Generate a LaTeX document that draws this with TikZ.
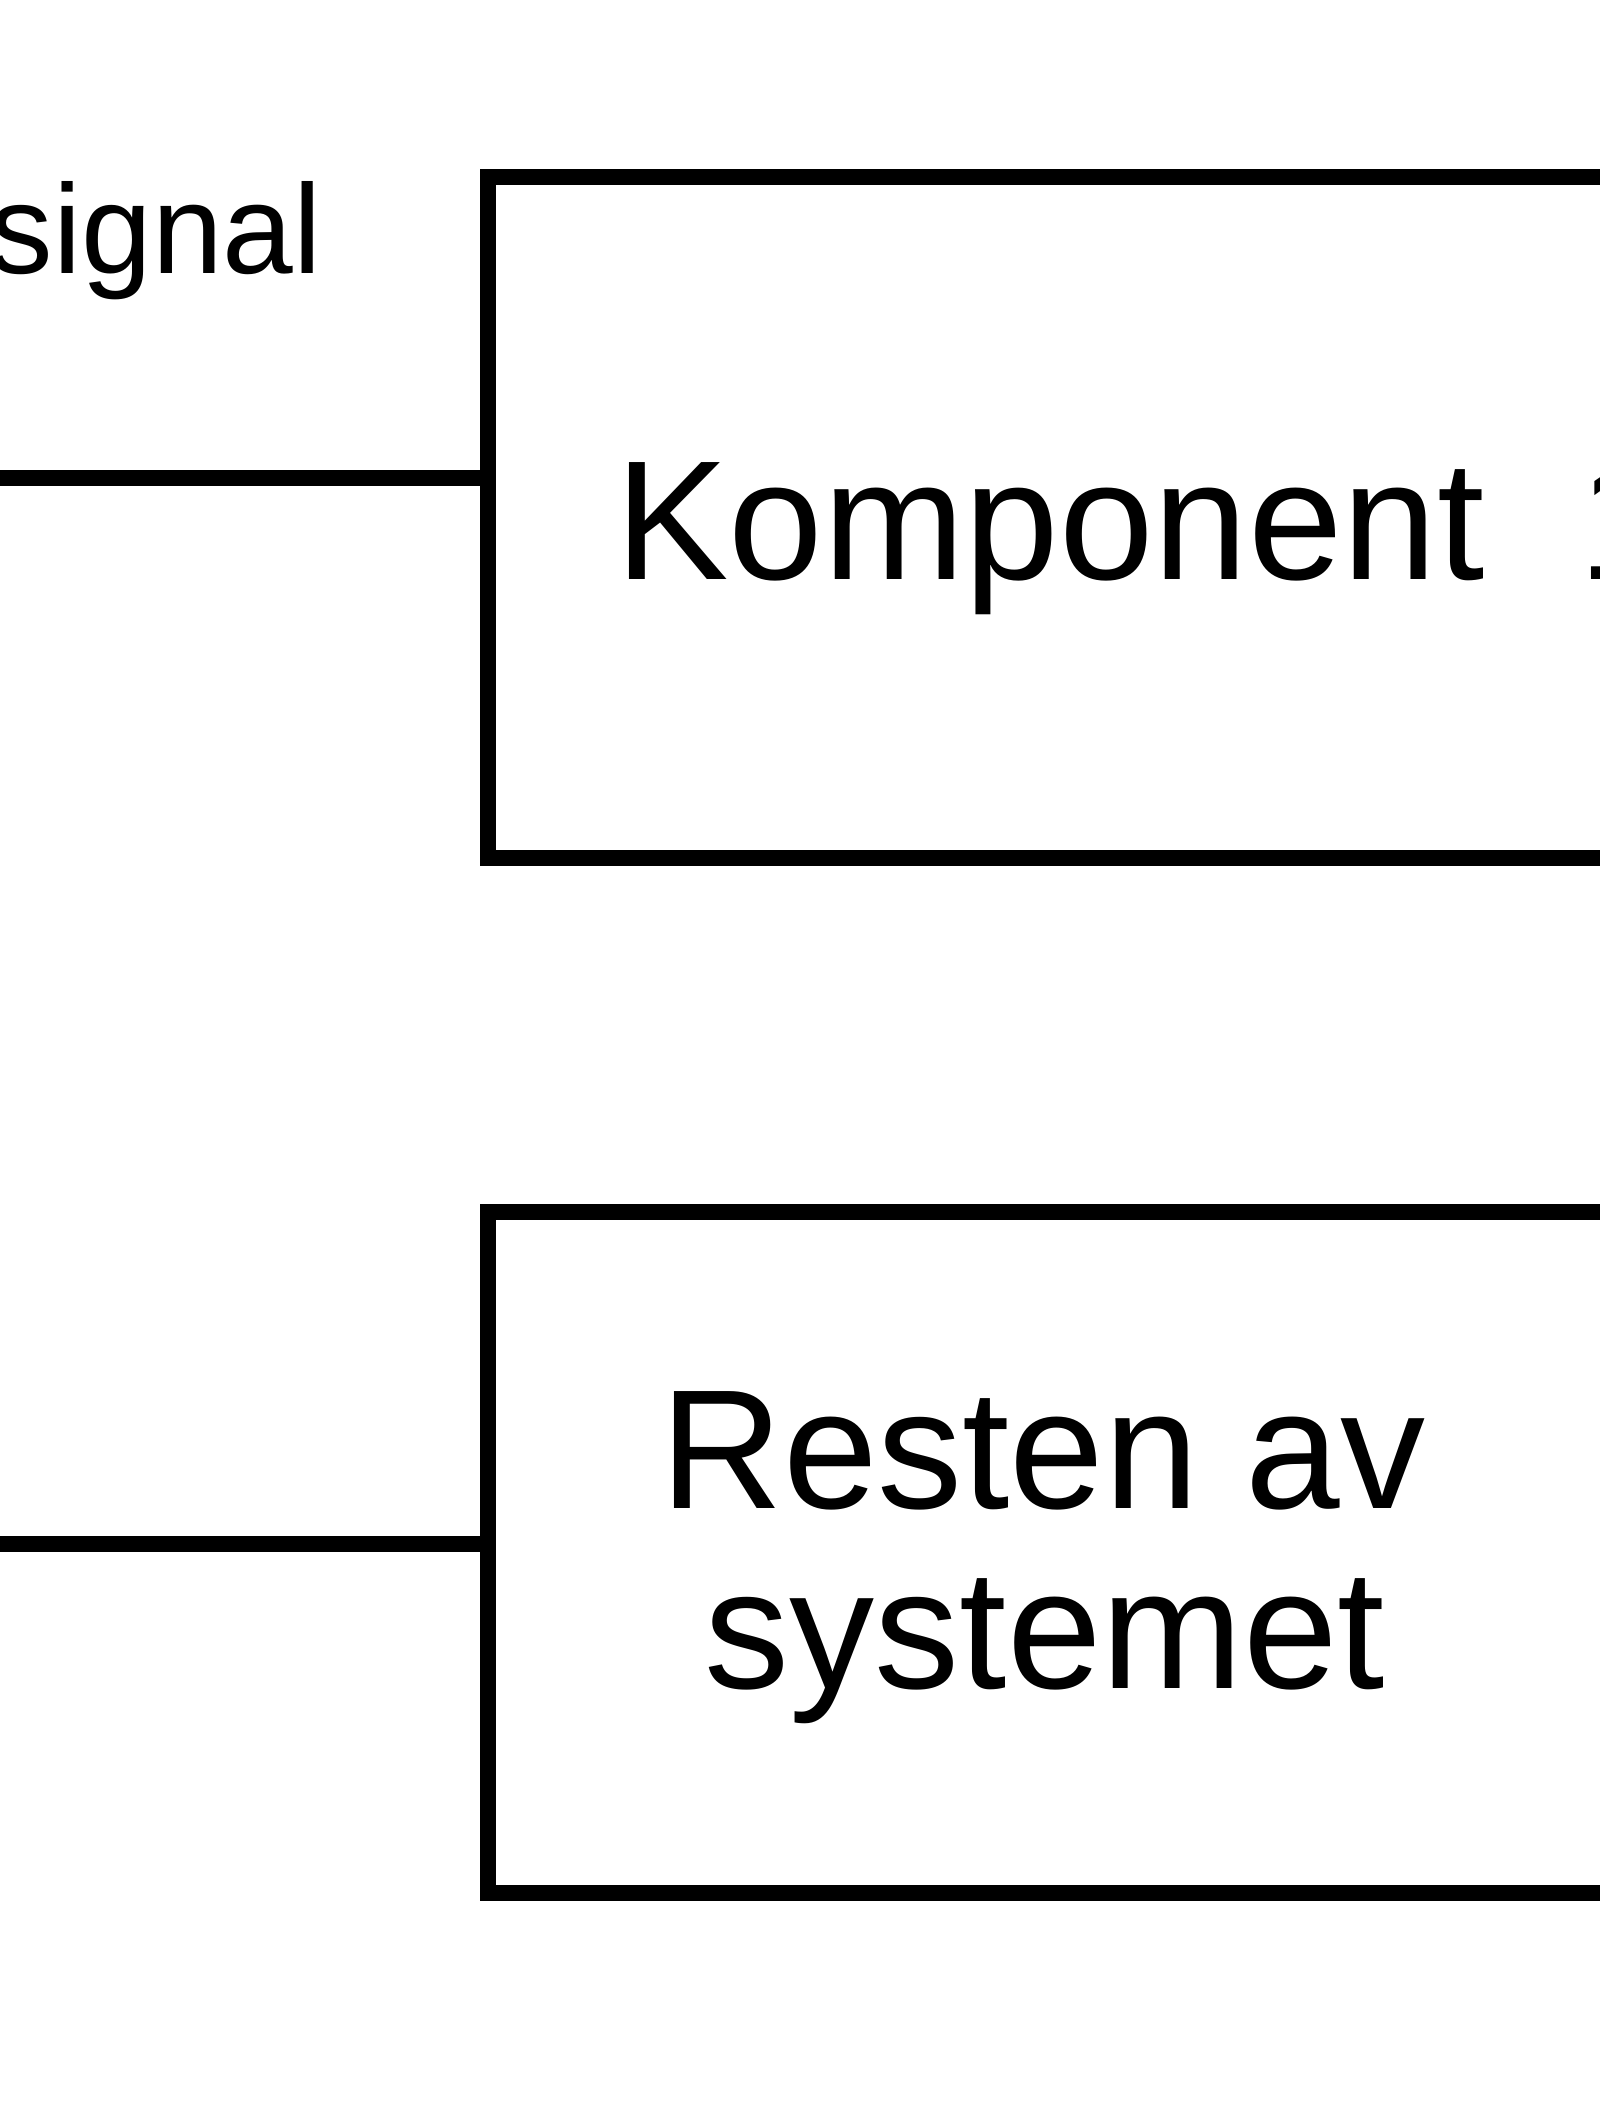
\documentclass[tikz,border=0pt]{standalone}
\usepackage{fontspec}
\setmainfont{Liberation Sans}
\begin{document}
\begin{tikzpicture}[x=0.5pt,y=-0.5pt,
  boxstyle/.style={draw=black, line width=8pt, rectangle, inner sep=0pt, outer sep=0pt},
  wire/.style={draw=black, line width=8pt},
  bigtext/.style={font=\fontsize{85pt}{90pt}\selectfont, inner sep=0pt, anchor=base},
  smalltext/.style={font=\fontsize{63.5pt}{70pt}\selectfont, inner sep=0pt, anchor=base east}]
\useasboundingbox (0,0) rectangle (1600,2101);
% boxes (extend past the right edge)
\node[boxstyle, minimum width=606pt, minimum height=340.5pt, anchor=north west] (komp) at (488,177) {};
\node[boxstyle, minimum width=606pt, minimum height=340.5pt, anchor=north west] (rest) at (488,1212) {};
% texts
\node[bigtext] (kompT) at (1050,579) {Komponent};
\node[bigtext, anchor=base west] (kompN) at (1578,579) {1};
\node[bigtext] (restT1) at (1043,1508) {Resten av};
\node[bigtext] (restT2) at (1045,1688) {systemet};
\node[smalltext] (sigT) at (322,273) {signal};
% connectors
\coordinate (in1) at (-20,478);
\coordinate (in2) at (-20,1544);
\draw[wire] (in1) -- (in1 -| komp.west);
\draw[wire] (in2) -- (in2 -| rest.west);
\end{tikzpicture}
\end{document}
